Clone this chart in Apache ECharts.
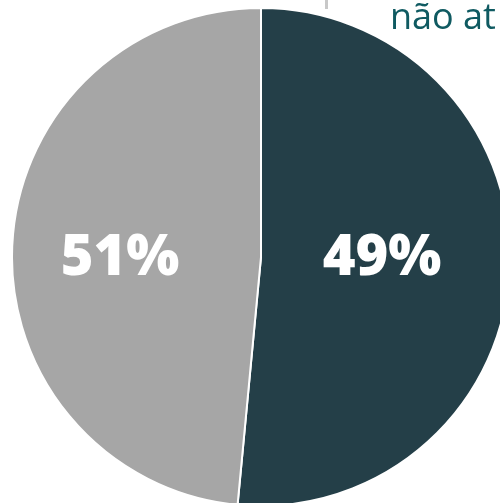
<!DOCTYPE html>
<html>
<head>
<meta charset="utf-8">
<script src="https://cdn.jsdelivr.net/npm/echarts@6/dist/echarts.min.js"></script>
<style>html,body{margin:0;padding:0;background:#fff;overflow:hidden}#c{width:500px;height:503px}</style>
</head>
<body>
<div id="c"></div>
<script>
// Data
const categories = ['atende', 'não atende'];
const sliceShares = [51.5, 48.5];      // angular share
const sliceLabels = ['49%', '51%'];    // label text shown in the picture
const sliceColors = ['#243f48', '#a6a6a6'];
const legendText = 'não at';

const chart = echarts.init(document.getElementById('c'), null, {renderer: 'canvas'});
chart.setOption({
  animation: false,
  series: [{
    type: 'pie',
    center: [261, 257],
    radius: [0, 249],
    startAngle: 90,
    clockwise: true,
    silent: true,
    label: {show: false},
    labelLine: {show: false},
    itemStyle: {borderColor: '#ffffff', borderWidth: 2},
    data: categories.map((c, i) => ({name: c, value: sliceShares[i], itemStyle: {color: sliceColors[i]}}))
  }],
  graphic: {
    elements: [
      {type: 'text', z: 100, x: 382, y: 259, style: {text: sliceLabels[0], fill: '#ffffff', fontFamily: 'Open Sans', fontWeight: 800, fontSize: 56, align: 'center', verticalAlign: 'middle'}},
      {type: 'text', z: 100, x: 120, y: 259, style: {text: sliceLabels[1], fill: '#ffffff', fontFamily: 'Open Sans', fontWeight: 800, fontSize: 56, align: 'center', verticalAlign: 'middle'}},
      {type: 'rect', z: 100, shape: {x: 325, y: 0, width: 3, height: 9}, style: {fill: '#c8c8c8'}},
      {type: 'text', z: 100, x: 390, y: 1, style: {text: legendText, fill: '#0f5a61', fontFamily: 'Open Sans', fontSize: 36, align: 'left', verticalAlign: 'top'}}
    ]
  }
});
</script>
</body>
</html>
